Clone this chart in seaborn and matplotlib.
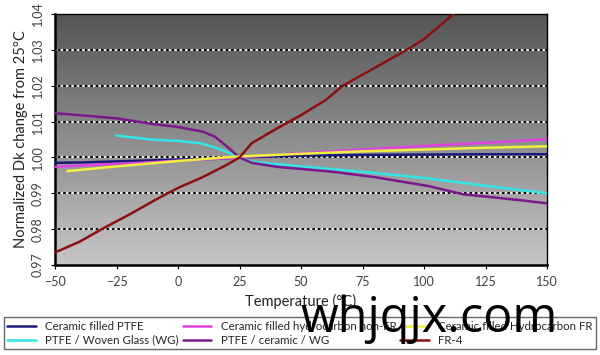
import numpy as np
import pandas as pd
import matplotlib.pyplot as plt
import seaborn as sns

sns.set_style('white')
plt.rcParams['font.family'] = ['Lato', 'DejaVu Sans']

# series (temperature in degC, normalized Dk)
ptfe_t = [-50, -40, -25, -10, 0, 15, 25, 50, 75, 100, 125, 150]
ptfe_v = [0.9985, 0.9986, 0.9989, 0.9992, 0.9994, 0.9996, 1.0000, 1.0005, 1.0007, 1.0008, 1.0009, 1.0009]

nonfr_t = [-50, -40, -25, -10, 0, 15, 25, 50, 75, 100, 125, 150]
nonfr_v = [0.9974, 0.9977, 0.9982, 0.9987, 0.9991, 0.9996, 1.0000, 1.0012, 1.0022, 1.0032, 1.0041, 1.0051]

fr_t = [-45, -40, -25, -10, 0, 15, 25, 50, 75, 100, 125, 150]
fr_v = [0.9962, 0.9965, 0.9975, 0.9984, 0.9990, 0.9998, 1.0003, 1.0010, 1.0017, 1.0022, 1.0027, 1.0031]

wg_t = [-25, -11, 0, 9, 14, 20, 25, 30, 50, 75, 100, 125, 150]
wg_v = [1.0061, 1.0050, 1.0046, 1.0040, 1.0030, 1.0015, 1.0000, 0.9988, 0.9975, 0.9960, 0.9943, 0.9921, 0.9900]

cwg_t = [-50, -40, -25, -10, 0, 10, 15, 20, 25, 30, 40, 63, 80, 102, 116, 125, 140, 150]
cwg_v = [1.0123, 1.0118, 1.0109, 1.0093, 1.0085, 1.0072, 1.0058, 1.0030, 1.0000, 0.9985, 0.9974, 0.9960, 0.9945, 0.9920, 0.9897, 0.9891, 0.9880, 0.9872]

fr4_t = [-50, -40, -31, -20, -7, 0, 10, 20, 25, 30, 40, 50, 60, 67, 80, 93, 100, 112, 120]
fr4_v = [0.9735, 0.9765, 0.9800, 0.9840, 0.9890, 0.9915, 0.9945, 0.9980, 1.0000, 1.0040, 1.0080, 1.0118, 1.0160, 1.0200, 1.0250, 1.0300, 1.0330, 1.0400, 1.0440]

names = ['Ceramic filled PTFE', 'PTFE / Woven Glass (WG)',
         'Ceramic filled hydrocarbon non-FR', 'PTFE / ceramic / WG',
         'Ceramic filled Hydrocarbon FR', 'FR-4']
series = [(ptfe_t, ptfe_v), (wg_t, wg_v), (nonfr_t, nonfr_v),
          (cwg_t, cwg_v), (fr_t, fr_v), (fr4_t, fr4_v)]
colors = ['#1a1a7a', '#33e5e5', '#e040e0', '#7a1a8a', '#f0f040', '#8b1010']

rows = []
for name, (t, v) in zip(names, series):
    for a, b in zip(t, v):
        rows.append({'Temperature': a, 'Dk': b, 'material': name})
df = pd.DataFrame(rows)

fig = plt.figure(figsize=(6, 3.55), dpi=100)
ax = fig.add_axes([0.0917, 0.2535, 0.82, 0.707])

# grey gradient background
grad = np.linspace(0, 1, 256).reshape(-1, 1)
ax.imshow(grad, extent=[-50, 150, 0.97, 1.04], aspect='auto', origin='lower',
          cmap=sns.blend_palette(['#c6c6c6', '#555555'], as_cmap=True), zorder=0)

for y in [0.98, 0.99, 1.00, 1.01, 1.02, 1.03]:
    ax.axhline(y, color='black', lw=1.3, zorder=1)
    ax.axhline(y, color='white', lw=1.3, ls=(0, (1.5, 1.5)), zorder=1)

sns.lineplot(data=df, x='Temperature', y='Dk', hue='material', hue_order=names,
             palette=colors, lw=1.8, ax=ax, estimator=None, sort=False, zorder=3)

ax.set_xlim(-50, 150)
ax.set_ylim(0.97, 1.04)
ax.set_xticks([-50, -25, 0, 25, 50, 75, 100, 125, 150])
ax.set_yticks([0.97, 0.98, 0.99, 1.00, 1.01, 1.02, 1.03, 1.04])
ax.set_yticklabels(['0.97', '0.98', '0.99', '1.00', '1.01', '1.02', '1.03', '1.04'],
                   rotation=90, va='center')
ax.tick_params(axis='both', labelsize=9, length=3, direction='out',
               left=True, bottom=True, colors='black', labelcolor='#404040')
ax.tick_params(axis='x', pad=5)
ax.tick_params(axis='y', pad=5)
for s in ['left', 'bottom']:
    ax.spines[s].set_linewidth(1.8)
for s in ['right', 'top']:
    ax.spines[s].set_linewidth(1.0)
for s in ax.spines.values():
    s.set_color('black')

ax.set_xlabel('Temperature (°C)', fontsize=10.5, color='#222222', labelpad=4)
ax.set_ylabel('Normalized Dk change from 25°C', fontsize=10.5, color='#222222', labelpad=3)

handles, labels = ax.get_legend_handles_labels()
ax.legend(handles, labels, ncol=3, loc='center', bbox_to_anchor=(0.006, 0.01, 0.988, 0.103),
          bbox_transform=fig.transFigure, mode='expand', fontsize=8.3, frameon=True,
          fancybox=False, edgecolor='#404040', handlelength=2.5, borderaxespad=0,
          borderpad=0.3, labelspacing=0.25, handletextpad=0.8)
leg = ax.get_legend()
leg.get_frame().set_linewidth(1.0)
leg.set_zorder(5)

# watermark
fig.text(0.715, 0.1, 'whjqjx.com', fontsize=35, color='black', ha='center', va='center',
         family=['Open Sans', 'DejaVu Sans'], zorder=10)

fig.savefig('out.png', dpi=100)
